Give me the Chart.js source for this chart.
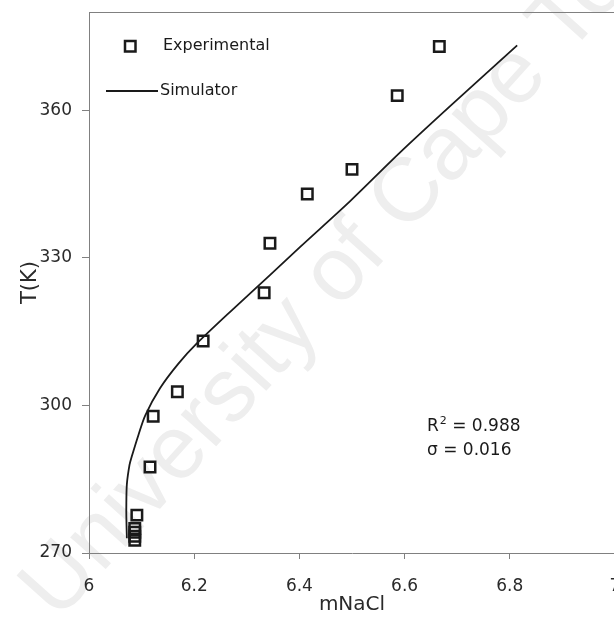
<!DOCTYPE html>
<html>
<head>
    <title>T(K) vs mNaCl</title>
    <script src="https://cdn.jsdelivr.net/npm/chart.js"></script>
    <style>
        html, body {
            margin: 0;
            padding: 0;
            background: #fff;
            overflow: hidden;
        }
        .chart-container {
            position: relative;
            width: 640px;
            height: 629px;
        }
    </style>
</head>
<body>
    <div class="chart-container">
        <canvas id="myChart"></canvas>
    </div>

    <script>
        // measured solubility points
        const expM = [6.666, 6.586, 6.500, 6.415, 6.344, 6.333, 6.217, 6.168, 6.122, 6.116, 6.091, 6.087, 6.087, 6.087, 6.087];
        const expT = [373.0, 363.0, 348.0, 343.0, 333.0, 322.9, 313.1, 302.8, 297.8, 287.5, 277.7, 275.0, 274.2, 273.4, 272.6];

        // simulator curve
        const simM = [6.072, 6.071, 6.071, 6.072, 6.077, 6.081, 6.094, 6.107, 6.135, 6.170, 6.205, 6.274, 6.344, 6.401, 6.496, 6.591, 6.686, 6.814];
        const simT = [273.0, 277.3, 280.2, 284.0, 287.9, 289.5, 294.0, 298.0, 303.5, 308.5, 312.6, 319.6, 326.5, 332.2, 341.5, 351.4, 360.8, 373.2];

        const xTicks = [6, 6.2, 6.4, 6.6, 6.8, 7];
        const yTicks = [270, 300, 330, 360];
        const fitR2 = '0.988';
        const fitSigma = '0.016';

        const FONT = 'DejaVu Sans';
        const INK = '#1a1a1a';
        const AXIS = '#808080';

        const overlayPlugin = {
            id: 'overlay',
            beforeDraw(chart) {
                // faint diagonal watermark behind everything
                const ctx = chart.ctx;
                ctx.save();
                ctx.translate(58, 622);
                ctx.rotate(-48 * Math.PI / 180);
                ctx.font = '90px "Liberation Sans"';
                ctx.fillStyle = '#eeeeee';
                ctx.fillText('University of Cape Town', 0, 0);
                ctx.restore();
            },
            afterDraw(chart) {
                const { ctx, chartArea: a } = chart;
                ctx.save();

                // top edge of the plot frame
                ctx.strokeStyle = AXIS;
                ctx.lineWidth = 1;
                ctx.beginPath();
                ctx.moveTo(a.left, a.top + 0.5);
                ctx.lineTo(a.right, a.top + 0.5);
                ctx.stroke();

                // legend
                ctx.fillStyle = INK;
                ctx.strokeStyle = INK;
                ctx.font = '16px "' + FONT + '"';
                ctx.textBaseline = 'middle';
                ctx.textAlign = 'left';
                ctx.lineWidth = 2.5;
                ctx.strokeRect(a.left + 36, a.top + 29, 10.5, 10.5);
                ctx.fillText('Experimental', a.left + 74, a.top + 34);
                ctx.lineWidth = 1.8;
                ctx.beginPath();
                ctx.moveTo(a.left + 17, a.top + 79);
                ctx.lineTo(a.left + 69, a.top + 79);
                ctx.stroke();
                ctx.fillText('Simulator', a.left + 71, a.top + 79);

                // fit statistics
                const sx = a.left + 338, sy = a.top + 415;
                ctx.font = '17px "' + FONT + '"';
                ctx.fillText('R', sx, sy);
                const rw = ctx.measureText('R').width;
                ctx.font = '11px "' + FONT + '"';
                ctx.fillText('2', sx + rw + 1, sy - 6);
                ctx.font = '17px "' + FONT + '"';
                ctx.fillText(' = ' + fitR2, sx + rw + 8, sy);
                ctx.fillText('\u03c3 = ' + fitSigma, sx, sy + 24);

                ctx.restore();
            }
        };

        window.addEventListener('load', function() {
            const ctx = document.getElementById('myChart');
            new Chart(ctx, {
                data: {
                    datasets: [{
                        type: 'scatter',
                        label: 'Experimental',
                        data: expM.map((m, i) => ({ x: m, y: expT[i] })),
                        pointStyle: 'rect',
                        pointRadius: 7.4,
                        pointBorderWidth: 2.5,
                        borderColor: INK,
                        backgroundColor: 'rgba(0,0,0,0)',
                        order: 1
                    }, {
                        type: 'line',
                        label: 'Simulator',
                        data: simM.map((m, i) => ({ x: m, y: simT[i] })),
                        borderColor: INK,
                        borderWidth: 1.8,
                        pointRadius: 0,
                        tension: 0.3,
                        fill: false,
                        order: 2
                    }]
                },
                options: {
                    responsive: true,
                    maintainAspectRatio: false,
                    animation: false,
                    layout: {
                        padding: { top: 12, right: 25, left: 0, bottom: 12 }
                    },
                    scales: {
                        x: {
                            type: 'linear',
                            min: 6,
                            max: 7,
                            afterBuildTicks: s => { s.ticks = xTicks.map(v => ({ value: v })); },
                            afterFit: s => {
                                s.height = 64;
                                s.paddingLeft = 0;
                                s.paddingRight = 0;
                            },
                            border: { color: AXIS, width: 1 },
                            grid: { drawOnChartArea: false, tickLength: 6, color: AXIS },
                            ticks: {
                                padding: 17,
                                color: '#2a2a2a',
                                font: { family: FONT, size: 17 },
                                callback: v => String(v)
                            },
                            title: {
                                display: true,
                                text: 'mNaCl',
                                color: '#2a2a2a',
                                font: { family: FONT, size: 20 },
                                padding: { top: 0, bottom: 0 }
                            }
                        },
                        y: {
                            type: 'linear',
                            min: 270,
                            max: 380,
                            afterBuildTicks: s => { s.ticks = yTicks.map(v => ({ value: v })); },
                            afterFit: s => {
                                s.width = 89;
                                s.paddingTop = 0;
                                s.paddingBottom = 0;
                            },
                            border: { color: AXIS, width: 1 },
                            grid: { drawOnChartArea: false, tickLength: 7, color: AXIS },
                            ticks: {
                                padding: 10,
                                color: '#2a2a2a',
                                font: { family: FONT, size: 17 },
                                callback: v => String(v)
                            },
                            title: {
                                display: true,
                                text: 'T(K)',
                                color: '#2a2a2a',
                                font: { family: FONT, size: 21 },
                                padding: { top: 18, bottom: 0 }
                            }
                        }
                    },
                    plugins: {
                        legend: { display: false },
                        tooltip: { enabled: false }
                    }
                },
                plugins: [overlayPlugin]
            });
        });
    </script>
</body>
</html>
